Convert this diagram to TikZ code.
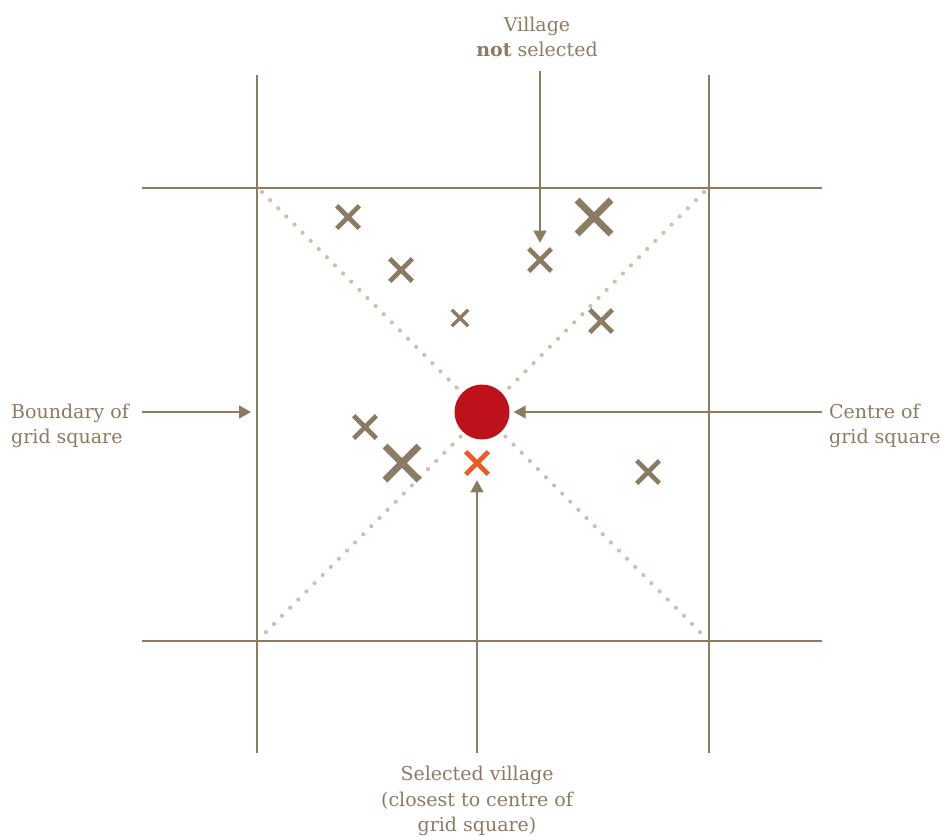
\documentclass[tikz,border=0pt]{standalone}
\usepackage{fontspec}
\setmainfont{DejaVu Serif}
\usetikzlibrary{positioning, arrows.meta, shapes.misc}

\definecolor{tan}{HTML}{8C7B63}
\definecolor{dotc}{HTML}{CABFB1}
\definecolor{centrered}{HTML}{BD111B}
\definecolor{pick}{HTML}{F05A22}

\begin{document}
\begin{tikzpicture}[x=1pt, y=-1pt,
  gridline/.style={draw=tan, line width=2pt},
  diag/.style={draw=dotc, line width=4.2pt, line cap=round, dash pattern=on 0pt off 11.5pt},
  vil/.style={cross out, draw=tan, minimum size=18pt, inner sep=0pt, line width=4.6pt},
  bigvil/.style={vil, minimum size=27pt, line width=7pt},
  smallvil/.style={vil, minimum size=13pt, line width=3.4pt},
  lbl/.style={text=tan, font=\fontsize{19}{25.5}\selectfont, inner sep=3pt},
  arrow/.style={draw=tan, line width=1.3pt, -{Triangle[length=12pt, width=13pt]}}]

  \useasboundingbox (0,0) rectangle (941,835);

  % grid square
  \draw[gridline] (257,75) -- (257,753);
  \draw[gridline] (709,75) -- (709,753);
  \draw[gridline] (142,188) -- (822,188);
  \draw[gridline] (142,641) -- (822,641);
  \draw[diag] (262,192) -- (704,636);
  \draw[diag] (704,192) -- (262,636);

  % villages
  \node[vil] (v1) at (348,217) {};
  \node[bigvil] (v2) at (594,217) {};
  \node[vil] (vns) at (540,260) {};
  \node[vil] (v3) at (401,270) {};
  \node[smallvil] (v4) at (460,318) {};
  \node[vil] (v5) at (601,321) {};
  \node[vil] (v6) at (365,427) {};
  \node[bigvil] (v7) at (402,463) {};
  \node[vil] (v8) at (648,472) {};
  \node[vil, draw=pick] (sel) at (477,463) {};

  % centre
  \node[circle, fill=centrered, minimum size=55pt, inner sep=0pt] (ctr) at (482,412) {};

  % labels
  \node[lbl, align=center] (nslbl) at (537,37) {Village\\\textbf{not} selected};
  \draw[arrow, shorten >=6pt] (nslbl.south -| vns) ++(0,11) -- (vns);

  \node[lbl, align=left, anchor=west] (bndlbl) at (8,426) {Boundary of\\grid square};
  \coordinate (bnd) at (251,412);
  \draw[arrow] (142,412) -- (bnd);

  \node[lbl, align=left, anchor=west] (ctrlbl) at (826,426) {Centre of\\grid square};
  \draw[arrow, shorten >=4pt] (822,412) -- (ctr);

  \node[lbl, align=center, anchor=north] (sellbl) at (477,763) {Selected village\\(closest to centre of\\grid square)};
  \draw[arrow, shorten >=6pt] (sellbl.north) ++(0,-10) -- (sel);
\end{tikzpicture}
\end{document}
